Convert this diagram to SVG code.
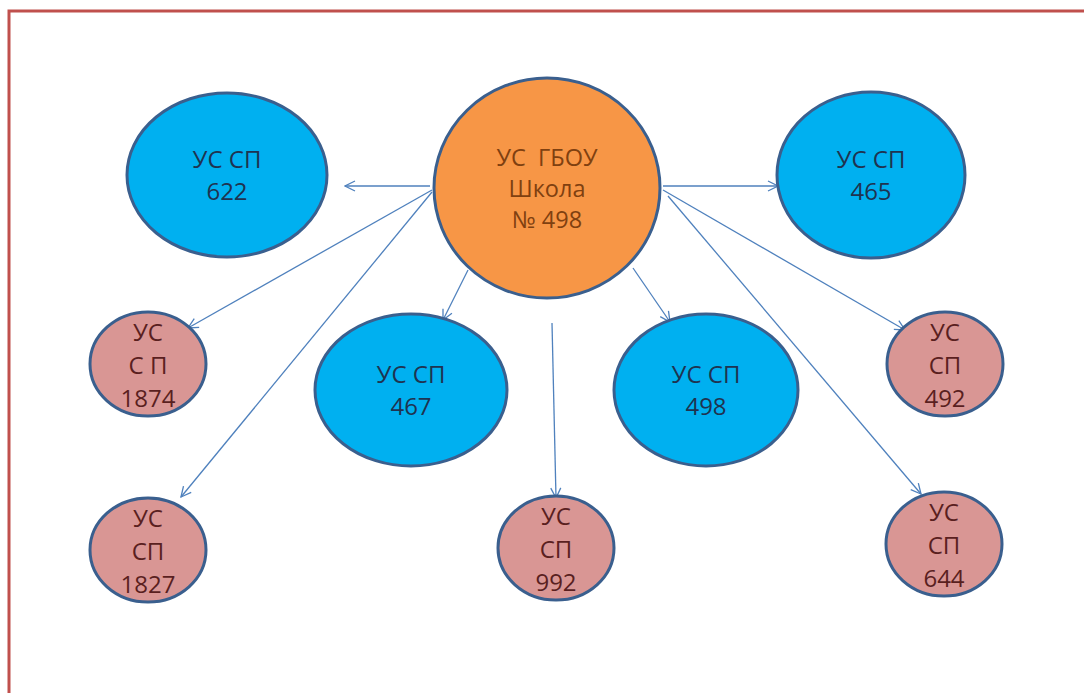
<svg xmlns="http://www.w3.org/2000/svg" width="1084" height="693" viewBox="0 0 1084 693">
<style>
text{font-family:"Open Sans","Noto Sans","Liberation Sans",sans-serif;font-size:22px;text-anchor:middle}
.c{fill:#f79646;stroke:#3a5f8e;stroke-width:3}
.b{fill:#00b0f0;stroke:#3a5f8e;stroke-width:3}
.p{fill:#d99694;stroke:#3a5f8e;stroke-width:3}
.tc{fill:#7f4010;font-size:23.5px}
.tb{fill:#1f3350;font-size:24px}
.tp{fill:#5a1f1f;font-size:24px}
#edges line{stroke:#4f81bd;stroke-width:1.3;fill:none;marker-end:url(#ah)}
</style>
<defs>
<marker id="ah" viewBox="0 0 12 12" refX="11" refY="6" markerWidth="12" markerHeight="12" markerUnits="userSpaceOnUse" orient="auto">
<path d="M1,1 L11,6 L1,11" fill="none" stroke="#4f81bd" stroke-width="1.3"/>
</marker>
</defs>
<rect x="0" y="0" width="1084" height="693" fill="#fff"/>
<path d="M9,700 L9,11 L1090,11" fill="none" stroke="#c0504d" stroke-width="3"/>
<g id="edges">
<line x1="430" y1="186" x2="345" y2="186"/>
<line x1="663" y1="186" x2="778" y2="186"/>
<line x1="432" y1="190" x2="188" y2="328"/>
<line x1="432" y1="192" x2="181" y2="497"/>
<line x1="468" y1="270" x2="443" y2="320"/>
<line x1="552" y1="323" x2="556" y2="498"/>
<line x1="633" y1="268" x2="670" y2="322"/>
<line x1="663" y1="190" x2="905" y2="330"/>
<line x1="668" y1="196" x2="921" y2="494"/>
</g>
<g id="n-center">
<ellipse class="c" cx="547" cy="188" rx="113" ry="110"/>
<text class="tc" x="547" y="166">УС&#160; ГБОУ</text>
<text class="tc" x="547" y="197">Школа</text>
<text class="tc" x="547" y="228">№ 498</text>
</g>
<g id="n-622">
<ellipse class="b" cx="227" cy="175" rx="100" ry="82"/>
<text class="tb" x="227" y="168">УС СП</text>
<text class="tb" x="227" y="200">622</text>
</g>
<g id="n-465">
<ellipse class="b" cx="871" cy="175" rx="94" ry="83"/>
<text class="tb" x="871" y="168">УС СП</text>
<text class="tb" x="871" y="200">465</text>
</g>
<g id="n-467">
<ellipse class="b" cx="411" cy="390" rx="96" ry="76"/>
<text class="tb" x="411" y="383">УС СП</text>
<text class="tb" x="411" y="415">467</text>
</g>
<g id="n-498">
<ellipse class="b" cx="706" cy="390" rx="92" ry="76"/>
<text class="tb" x="706" y="383">УС СП</text>
<text class="tb" x="706" y="415">498</text>
</g>
<g id="n-1874">
<ellipse class="p" cx="148" cy="364" rx="58" ry="52"/>
<text class="tp" x="148" y="341">УС</text>
<text class="tp" x="148" y="374">С П</text>
<text class="tp" x="148" y="407">1874</text>
</g>
<g id="n-492">
<ellipse class="p" cx="945" cy="364" rx="58" ry="52"/>
<text class="tp" x="945" y="341">УС</text>
<text class="tp" x="945" y="374">СП</text>
<text class="tp" x="945" y="407">492</text>
</g>
<g id="n-1827">
<ellipse class="p" cx="148" cy="550" rx="58" ry="52"/>
<text class="tp" x="148" y="527">УС</text>
<text class="tp" x="148" y="560">СП</text>
<text class="tp" x="148" y="593">1827</text>
</g>
<g id="n-992">
<ellipse class="p" cx="556" cy="548" rx="58" ry="52"/>
<text class="tp" x="556" y="525">УС</text>
<text class="tp" x="556" y="558">СП</text>
<text class="tp" x="556" y="591">992</text>
</g>
<g id="n-644">
<ellipse class="p" cx="944" cy="544" rx="58" ry="52"/>
<text class="tp" x="944" y="521">УС</text>
<text class="tp" x="944" y="554">СП</text>
<text class="tp" x="944" y="587">644</text>
</g>
</svg>
